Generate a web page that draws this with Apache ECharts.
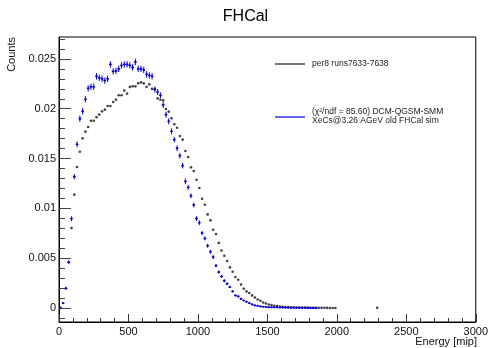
<!DOCTYPE html>
<html>
<head>
<meta charset="utf-8">
<script src="https://cdn.jsdelivr.net/npm/echarts@6/dist/echarts.min.js"></script>
<style>html,body{margin:0;padding:0;background:#fff}#c{width:491px;height:348px}</style>
</head>
<body>
<div id="c"></div>
<script>
// ---- data (bin width 20 mip, first bin centre 10 mip) ----
const binWidth = 20;
const firstCenter = 10;
const blackCounts = [null,null,null,null,0.00803,0.01138,0.01416,0.01569,0.01703,0.0177,
  0.01817,0.0188,0.0188,0.01914,0.01941,0.01974,0.01991,0.02028,0.02028,0.02068,
  0.02091,0.02135,0.02135,0.02182,0.02152,0.02219,0.02225,0.02225,0.02255,0.02265,
  0.02255,0.02219,0.02245,0.02199,0.02199,0.02104,0.02091,0.02084,0.01998,0.01971,
  0.01904,0.01844,0.0181,0.01727,0.0169,0.01576,0.01516,0.01412,0.01375,0.01288,
  0.01205,0.01097,0.01037,0.0094,0.0088,0.00786,0.00743,0.00654,0.00578,0.00525,
  0.00472,0.00408,0.00364,0.00311,0.00284,0.00237,0.00194,0.00167,0.00151,0.00127,
  0.00106,0.00086,0.00073,0.00056,0.00046,0.00036,0.0003,0.00023,0.0002,0.00016,
  0.00013,0.0001,0.0001,0.00008,0.00007,0.00006,0.00005,0.00005,0.00004,0.00004,
  0.00003,0.00003,0.00003,0.00002,0.00002,0.00002,0.00002,0.00001,0.00001,0.00001];
const blackExtraX = [2290];
const blackExtraY = [0.00002];
const blueCounts = [0.00005,0.0005,0.00197,0.0046,0.00897,0.01318,0.01643,0.019,0.01975,0.02095,
  0.02205,0.0222,0.0222,0.02325,0.0231,0.023,0.02283,0.023,0.02445,0.02375,
  0.0238,0.024,0.02435,0.02445,0.02445,0.02435,0.02415,0.0247,0.024,0.024,
  0.0239,0.02345,0.02335,0.02325,0.02192,0.02168,0.02135,0.02038,0.01941,0.01874,
  0.01773,0.0169,0.01603,0.01529,0.01429,0.01271,0.01211,0.01127,0.01034,0.00897,
  0.00856,0.00753,0.00699,0.00625,0.00565,0.00512,0.00425,0.00361,0.00317,0.00274,
  0.00244,0.00211,0.00167,0.00127,0.00117,0.00093,0.00076,0.00063,0.0005,0.00036,
  0.00026,0.00023,0.00016,0.00013,0.0001,0.00009,0.00008,0.00007,0.00006,0.00005,
  0.00005,0.00004,0.00004,0.00003,0.00003,0.00003,0.00002,0.00002,0.00002,0.00002,
  0.00001,0.00001,0.00001];
const blueErr = [0.00003,0.0001,0.00015,0.0002,0.00024,0.00027,0.0003,0.00032,0.00032,0.00032,
  0.00032,0.00032,0.00032,0.00032,0.00032,0.00032,0.00032,0.00032,0.00032,0.00032,
  0.00032,0.00032,0.00032,0.00032,0.00032,0.00032,0.00032,0.00032,0.00032,0.00032,
  0.00032,0.00032,0.00032,0.00032,0.0003,0.0003,0.0003,0.0003,0.0003,0.0003,
  0.0003,0.00028,0.00028,0.00028,0.00028,0.00028,0.00025,0.00025,0.00025,0.00025,
  0.00025,0.0002,0.0002,0.0002,0.0002,0.0002,0.00015,0.00015,0.00015,0.00015,
  0.00015,0.0001,0.0001,0.0001,0.0001,0.0001,0.00006,0.00006,0.00006,0.00006,
  0.00006,0.00003,0.00003,0.00003,0.00003,0.00002,0.00002,0.00002,0.00002,0.00002,
  0.00002,0.00002,0.00002,0.00001,0.00001,0.00001,0.00001,0.00001,0.00001,0.00001,
  0.00001,0.00001,0.00001];
const xTickLabels = ['0','500','1000','1500','2000','2500','3000'];
const yTickValues = [0,0.005,0.01,0.015,0.02,0.025];
const yTickLabels = ['0','0.005','0.01','0.015','0.02','0.025'];
const yMinorValues = [-0.001,0,0.001,0.002,0.003,0.004,0.005,0.006,0.007,0.008,0.009,0.01,0.011,0.012,0.013,0.014,0.015,0.016,0.017,0.018,0.019,0.02,0.021,0.022,0.023,0.024,0.025,0.026,0.027];
const legendTexts = ['per8 runs7633-7638','(χ²/ndf = 85.60) DCM-QGSM-SMM','XeCs@3.26 AGeV old FHCal sim'];

// ---- build series data ----
const blackData = [];
blackCounts.forEach((v,i)=>{ if(v!==null) blackData.push([firstCenter+binWidth*i, v]); });
blackExtraX.forEach((x,i)=>blackData.push([x, blackExtraY[i]]));
const blueData = blueCounts.map((v,i)=>[firstCenter+binWidth*i, v, blueErr[i]]);

const FONT = 'Liberation Sans, Arial, Helvetica, sans-serif';
const chart = echarts.init(document.getElementById('c'), null, {renderer:'canvas'});
const yBase = {type:'value', min:-0.0014, max:0.0272, splitLine:{show:false}};
chart.setOption({
  animation:false,
  backgroundColor:'#fff',
  title:{text:'FHCal', left:'center', top:4, textStyle:{fontFamily:FONT, fontSize:16, fontWeight:'normal', color:'#000'}},
  grid:{left:59, right:14, top:37, bottom:26, show:true, borderColor:'#000', borderWidth:1, backgroundColor:'transparent'},
  xAxis:{type:'value', min:0, max:3000, interval:500,
    axisLine:{show:true, onZero:false, lineStyle:{color:'#000', width:1}},
    axisTick:{show:true, inside:true, length:8, lineStyle:{color:'#333'}},
    minorTick:{show:true, splitNumber:5, length:4, lineStyle:{color:'#333'}},
    splitLine:{show:false},
    axisLabel:{margin:4, fontSize:11, fontFamily:FONT, color:'#111',
      formatter:(v)=>xTickLabels[Math.round(v/500)] || ''}
  },
  yAxis:[
    Object.assign({}, yBase, {
      axisLine:{show:true, onZero:false, lineStyle:{color:'#000', width:1}},
      axisTick:{show:true, inside:true, length:12, customValues:yTickValues, lineStyle:{color:'#444'}},
      axisLabel:{show:true, margin:3, fontSize:11, fontFamily:FONT, color:'#111', customValues:yTickValues,
        formatter:(v)=>{const i=yTickValues.findIndex(t=>Math.abs(t-v)<1e-9); return i>=0?yTickLabels[i]:'';}}
    }),
    Object.assign({}, yBase, {
      position:'left',
      axisLine:{show:false, onZero:false},
      axisTick:{show:true, inside:true, length:6, customValues:yMinorValues, lineStyle:{color:'#444'}},
      axisLabel:{show:false}
    })
  ],
  series:[
    {type:'scatter', name:'data', data:blackData, yAxisIndex:0, symbol:'circle', symbolSize:2.6,
      itemStyle:{color:'#111'}, silent:true, z:3},
    {type:'custom', name:'sim', data:blueData, yAxisIndex:0, silent:true, z:4,
      renderItem:function(params, api){
        const x=api.value(0), y=api.value(1), e=api.value(2);
        const c=api.coord([x,y]);
        const top=api.coord([x,y+e]), bot=api.coord([x,y-e]);
        const l=api.coord([x-binWidth/2,y]), r=api.coord([x+binWidth/2,y]);
        const st={stroke:'#0000dd', lineWidth:1};
        return {type:'group', children:[
          {type:'line', shape:{x1:c[0],y1:top[1],x2:c[0],y2:bot[1]}, style:st},
          {type:'line', shape:{x1:l[0],y1:c[1],x2:r[0],y2:c[1]}, style:st},
          {type:'circle', shape:{cx:c[0],cy:c[1],r:1.1}, style:{fill:'#0000dd'}}
        ]};
      }
    }
  ],
  graphic:[
    {type:'text', x:12, y:37, rotation:Math.PI/2,
      style:{text:'Counts', fontFamily:FONT, fontSize:11, fill:'#111', align:'right', verticalAlign:'middle'}},
    {type:'text', x:477, y:342, style:{text:'Energy [mip]', fontFamily:FONT, fontSize:11, fill:'#111', align:'right', verticalAlign:'middle'}},
    {type:'line', shape:{x1:275, y1:64, x2:305, y2:64}, style:{stroke:'#444', lineWidth:1.5}},
    {type:'text', x:312, y:64, style:{text:legendTexts[0], fontFamily:FONT, fontSize:8.5, fill:'#222', verticalAlign:'middle'}},
    {type:'line', shape:{x1:275, y1:117, x2:305, y2:117}, style:{stroke:'#3333ee', lineWidth:1.5}},
    {type:'text', x:312, y:112, style:{text:legendTexts[1], fontFamily:FONT, fontSize:8.5, fill:'#222', verticalAlign:'middle'}},
    {type:'text', x:312, y:120.5, style:{text:legendTexts[2], fontFamily:FONT, fontSize:8.5, fill:'#222', verticalAlign:'middle'}}
  ]
});
</script>
</body>
</html>
